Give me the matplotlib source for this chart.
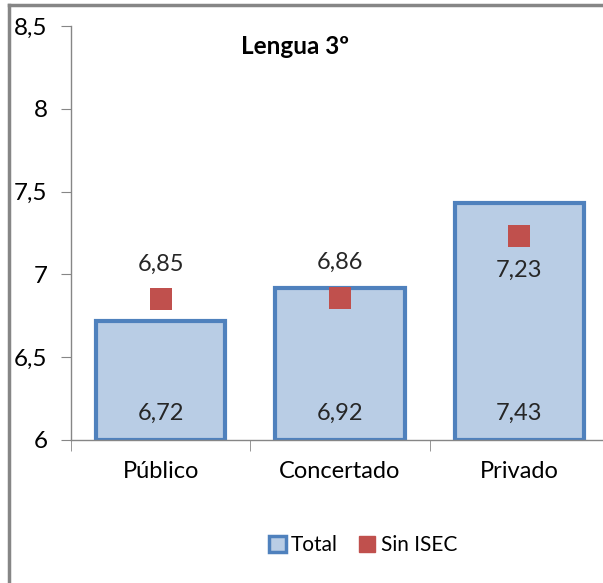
import numpy as np
import matplotlib.pyplot as plt
from matplotlib.lines import Line2D
from matplotlib.patches import Patch

plt.rcParams['font.family'] = ['Lato', 'DejaVu Sans']

# Datos
categorias = ['Público', 'Concertado', 'Privado']
total = [6.72, 6.92, 7.43]
sin_isec = [6.85, 6.86, 7.23]
yticks = [6, 6.5, 7, 7.5, 8, 8.5]
ytick_labels = ['6', '6,5', '7', '7,5', '8', '8,5']

azul = '#4F81BD'
azul_claro = '#B9CDE5'
rojo = '#C0504D'
gris = '#868686'

fig = plt.figure(figsize=(6.03, 5.83), dpi=100)
# el eje se sale un poco por la derecha (la imagen original esta recortada)
ax = fig.add_axes([71 / 603, 1 - 440 / 583, 538 / 603, 414 / 583])

x = np.arange(len(categorias))
ax.bar(x, [t - 6 for t in total], bottom=6, width=0.72, color=azul_claro,
       edgecolor=azul, linewidth=3, zorder=2)
ax.scatter(x, sin_isec, marker='s', s=260, color=rojo, zorder=3, linewidths=0)

for i in range(len(x)):
    ax.text(x[i], 6.16, f'{total[i]:.2f}'.replace('.', ','), ha='center',
            va='center', fontsize=17, color='#262626')
    if sin_isec[i] < total[i] - 0.1:
        ypos = sin_isec[i] - 0.205
    else:
        ypos = sin_isec[i] + 0.21
    ax.text(x[i], ypos, f'{sin_isec[i]:.2f}'.replace('.', ','), ha='center',
            va='center', fontsize=17, color='#262626')

ax.set_xlim(-0.5, 2.5)
ax.set_ylim(6, 8.5)
ax.set_yticks(yticks)
ax.set_yticklabels(ytick_labels, fontsize=17.5)
ax.set_xticks(x)
ax.set_xticklabels(categorias, fontsize=17)
ax.set_xticks([-0.5, 0.5, 1.5, 2.5], minor=True)
ax.tick_params(axis='x', which='major', length=0, pad=15)
ax.tick_params(axis='x', which='minor', length=8, color=gris, direction='out')
ax.tick_params(axis='y', length=7, color=gris, direction='out', pad=10)
for lado in ['top', 'right']:
    ax.spines[lado].set_visible(False)
for lado in ['left', 'bottom']:
    ax.spines[lado].set_color(gris)
    ax.spines[lado].set_linewidth(1)

fig.text(295 / 603, 1 - 47 / 583, 'Lengua 3º', ha='center', va='center',
         fontsize=17.5, fontweight='bold')

manejadores = [Patch(facecolor=azul_claro, edgecolor=azul, linewidth=2.5, label='Total'),
               Patch(facecolor=rojo, edgecolor=rojo, label='Sin ISEC')]
fig.legend(handles=manejadores, loc='center', bbox_to_anchor=(363 / 603, 1 - 545 / 583),
           ncol=2, frameon=False, fontsize=15, handlelength=0.8, handleheight=0.8,
           handletextpad=0.25, columnspacing=1.0)

# borde gris de la figura (izquierda y arriba)
fig.add_artist(Line2D([9 / 603, 9 / 603], [0, 1 - 5 / 583], color=gris, linewidth=2.5))
fig.add_artist(Line2D([9 / 603, 1], [1 - 5 / 583, 1 - 5 / 583], color=gris, linewidth=2.5))

fig.savefig('out.png', dpi=100)
